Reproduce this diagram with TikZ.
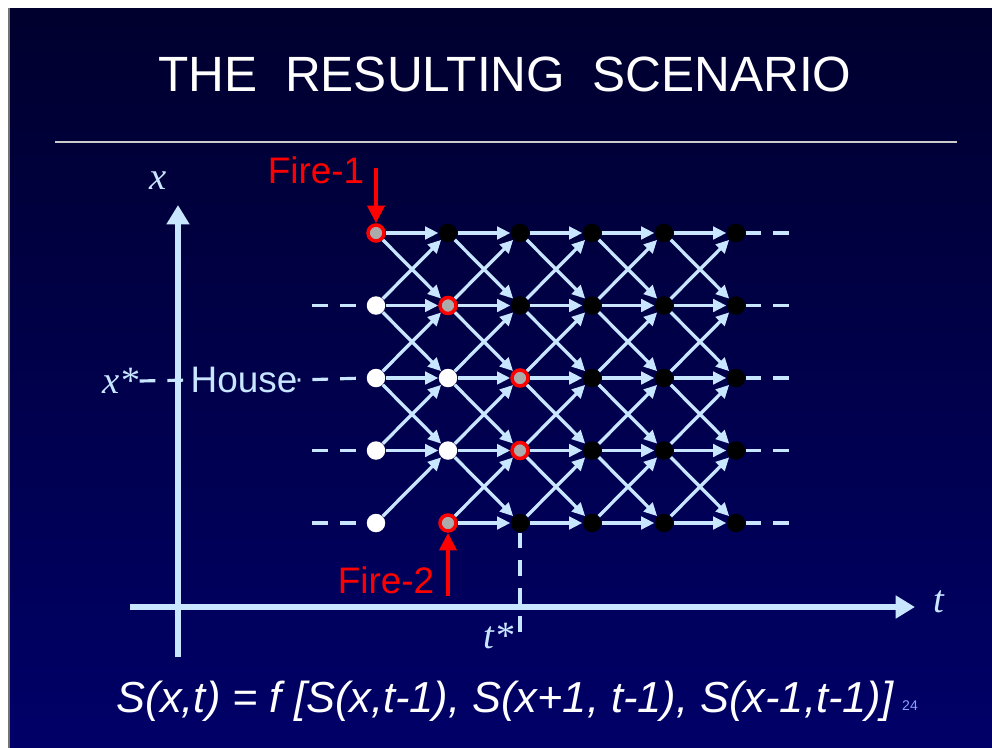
\documentclass[tikz,border=0pt]{standalone}
\usepackage{fontspec}
\setmainfont{Liberation Sans}
\newfontfamily\tnr{Liberation Serif}
\usetikzlibrary{arrows.meta,calc}
\definecolor{skyline}{RGB}{200,230,255}
\definecolor{slidetop}{RGB}{0,0,46}
\definecolor{slidebot}{RGB}{0,0,104}
\definecolor{burnred}{RGB}{255,0,0}
\tikzset{
  sccell/.style={circle, inner sep=0pt, minimum size=0.37cm},
  scfire/.style={sccell, draw=burnred, line width=2pt, minimum size=0.32cm, fill=black!33},
  scwhite/.style={sccell, fill=white},
  scblack/.style={sccell, fill=black},
  scedge/.style={-{Triangle[length=7.5pt,width=7pt]}, skyline, line width=1.9pt},
  scdash/.style={skyline, line width=1.8pt, dash pattern=on 9pt off 6.8pt},
  scaxis/.style={-{Triangle[length=11pt,width=12.5pt]}, skyline, line width=3.4pt},
  scflame/.style={-{Triangle[length=10pt,width=9.5pt]}, burnred, line width=2.8pt},
  sclabel/.style={inner sep=0pt, font=\fontsize{21}{24}\selectfont},
  scvar/.style={inner sep=0pt, text=skyline, font=\tnr\itshape\fontsize{22}{24}\selectfont},
}

\begin{document}
\begin{tikzpicture}[x=0.02cm, y=-0.02cm]
  \useasboundingbox (0,0) rectangle (992,748);
  \shade[top color=slidetop, bottom color=slidebot] (9,8) rectangle (992,748);
  \draw[black!55, line width=0.6pt] (9,8) -- (9,748);
  \node[text=white, inner sep=0pt, font=\fontsize{28.2}{30}\selectfont] (title) at (505,74) {THE\ \ RESULTING\ \ SCENARIO};
  \draw[black!20, line width=0.9pt] (55,142) -- (957,142);

  % states of the grid
  \foreach \ca/\rb/\st in {0/0/scfire, 0/1/scwhite, 0/2/scwhite, 0/3/scwhite, 0/4/scwhite,
                           1/0/scblack, 1/1/scfire, 1/2/scwhite, 1/3/scwhite, 1/4/scfire,
                           2/0/scblack, 2/1/scblack, 2/2/scfire, 2/3/scfire, 2/4/scblack}
    \node[\st] (g-\ca-\rb) at ({376+72*\ca},{233+72.5*\rb}) {};
  \foreach \ca in {3,4,5}
    \foreach \rb in {0,...,4}
      \node[scblack] (g-\ca-\rb) at ({376+72*\ca},{233+72.5*\rb}) {};

  % spread from t-1 to t
  \foreach \ca [evaluate=\ca as \cn using int(\ca+1)] in {0,...,4} {
    \foreach \rb [evaluate=\rb as \ru using int(\rb-1), evaluate=\rb as \rd using int(\rb+1)] in {0,...,4} {
      \ifnum\ca\rb=4 \else \draw[scedge] (g-\ca-\rb) -- (g-\cn-\rb); \fi
      \ifnum\rb>0 \draw[scedge] (g-\ca-\rb) -- (g-\cn-\ru); \fi
      \ifnum\rb<4 \ifnum\ca\rb=3 \else \draw[scedge] (g-\ca-\rb) -- (g-\cn-\rd); \fi \fi
    }
  }

  \foreach \rb in {1,3,4}
    \draw[scdash, shorten <=6pt] (g-0-\rb.west) -- ++(-56,0);
  \foreach \rb in {0,...,4}
    \draw[scdash] (g-5-\rb.east) -- ++(46,0);

  \node[sclabel, text=skyline] (house) at (244,380) {House};
  \node[scvar] (xs) at (121,381) {x*};
  \draw[scdash] (xs.east) -- (house.west);
  \draw[scdash, shorten <=6pt] (g-0-2.west) -- (house.east);

  \coordinate (tcut) at (520,640);
  \draw[scdash] (g-2-4.south) -- (tcut);
  \node[scvar] (ts) at (499,636) {t*};

  % axes
  \coordinate (xbot) at (178,657);
  \coordinate (xtop) at (178,205);
  \coordinate (tleft) at (130,607);
  \coordinate (tright) at (915,607);
  \draw[scaxis] (xbot) -- (xtop);
  \draw[scaxis] (tleft) -- (tright);
  \node[scvar] (xl) at (158,181) {x};
  \node[scvar] (tl) at (939,602) {t};

  % fires
  \node[sclabel, text=burnred] (fire1) at (316,170) {Fire-1};
  \node[sclabel, text=burnred] (fire2) at (386,580) {Fire-2};
  \coordinate (f1) at (376,168);
  \coordinate (f2) at (448,596);
  \draw[scflame] (f1) -- (g-0-0);
  \draw[scflame] (f2) -- (g-1-4);

  \node[text=white, anchor=base, inner sep=0pt, font=\itshape\fontsize{24.7}{28}\selectfont] (rule) at (505,712)
    {S(x,t) = f [S(x,t-1), S(x+1, t-1), S(x-1,t-1)]};
  \node[text=skyline!70!blue, inner sep=0pt, font=\fontsize{8}{9}\selectfont] (page) at (910,706) {24};
\end{tikzpicture}
\end{document}
